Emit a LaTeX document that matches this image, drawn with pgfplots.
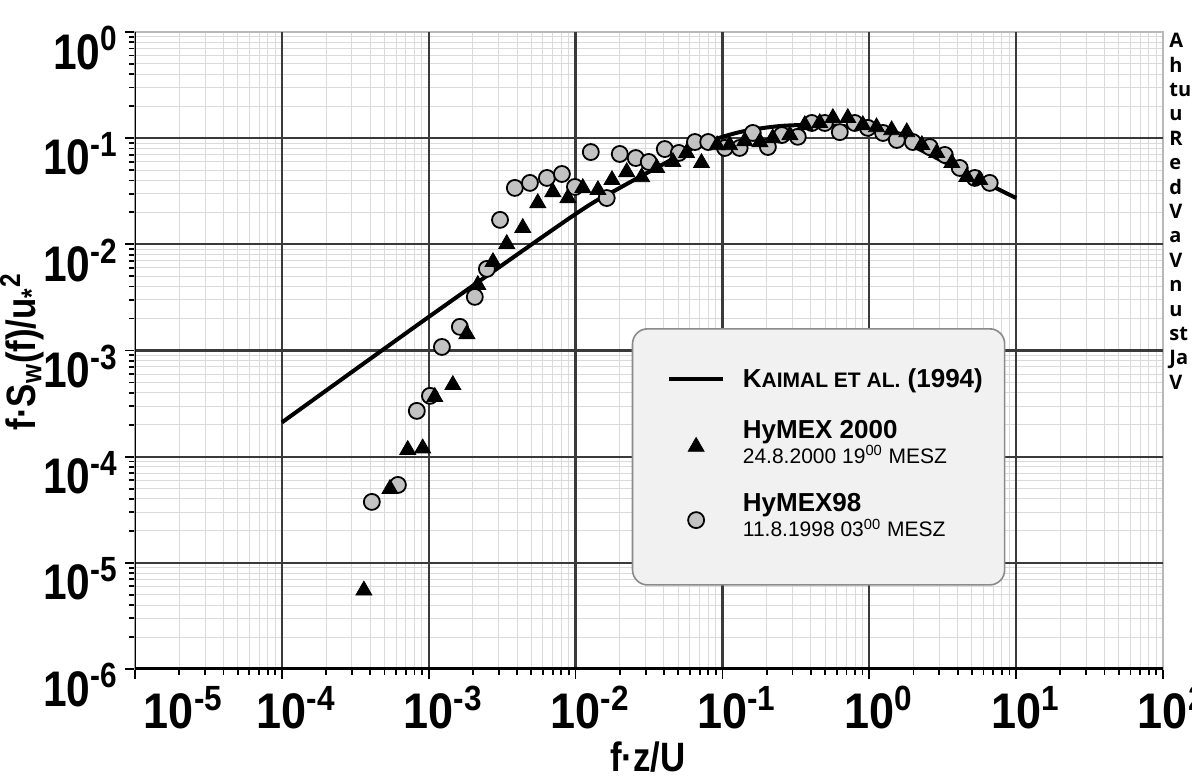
\documentclass[border=0pt]{standalone}
\usepackage{fontspec}
\setmainfont{Liberation Sans}
\newfontfamily\cond{Liberation Sans}[FakeStretch=0.85]
\newfontfamily\tcond{Liberation Sans}[FakeStretch=0.9]
\newfontfamily\sidefont{Open Sans}
\usepackage{pgfplots}
\pgfplotsset{compat=1.18}

\definecolor{majgrid}{HTML}{3A3A3A}
\definecolor{mingrid}{HTML}{DADADA}
\definecolor{dotfill}{HTML}{C2C2C2}
\definecolor{legfill}{HTML}{F1F1F1}
\definecolor{legdraw}{HTML}{8A8A8A}

\newcommand\ticktext{\tcond\bfseries\fontsize{25}{26}\selectfont}
\newcommand\yticktext{\cond\bfseries\fontsize{25}{26}\selectfont}
\newcommand\labtext{\cond\bfseries\fontsize{20.5}{24}\selectfont}
\newcommand\xl[1]{10\rlap{\textsuperscript{#1}}}
% two-line legend entry, lifted so the mark sits between its lines
\newcommand\legtwo[2]{\raisebox{5pt}[\height][\depth]{\begin{tabular}{@{}l@{}}\fontsize{13}{15}\selectfont\bfseries #1\\[0pt]
  \fontsize{10.5}{12}\selectfont #2\end{tabular}}}

\begin{document}
\begin{tikzpicture}
\useasboundingbox (0pt,0pt) rectangle (596pt,389.5pt);
\begin{axis}[at={(67.5pt,55pt)}, anchor=south west, scale only axis,
  width=514pt, height=318.5pt,
  xmode=log, ymode=log, xmin=1e-5, xmax=1e2, ymin=1e-6, ymax=1,
  xtick={1e-5,1e-4,1e-3,1e-2,1e-1,1,10,100},
  xticklabels={\hspace*{34pt}\xl{-5},\xl{-4},\xl{-3},\xl{-2},\xl{-1},\xl{0},\xl{1},\xl{2}},
  ytick={1e-6,1e-5,1e-4,1e-3,1e-2,1e-1,1},
  yticklabels={10\textsuperscript{-6},10\textsuperscript{-5},10\textsuperscript{-4},10\textsuperscript{-3},10\textsuperscript{-2},10\textsuperscript{-1},10\textsuperscript{0}},
  xticklabel style={font=\ticktext},
  yticklabel style={font=\yticktext, yshift=-8pt},
  tick align=outside, xtick pos=bottom, ytick pos=left,
  major tick length=5pt, minor tick length=3pt,
  tick style={black, line width=0.9pt},
  grid=minor,
  minor grid style={mingrid, line width=0.5pt},
  axis line style={draw=gray!55, line width=0.6pt},
  xlabel={f·z/U}, xlabel style={font=\labtext, at={(axis description cs:0.499,-0.138)}, anchor=center},
  ylabel={f·S\textsubscript{w}(f)/u\textsubscript{*}\textsuperscript{2}},
  ylabel style={font=\labtext, at={(axis description cs:-0.11,0.498)}, anchor=center},
  legend style={at={(rel axis cs:0.5175,0.476)}, anchor=north west, draw=none, fill=none,
    inner sep=0pt, row sep=18pt, nodes={inner sep=1pt},
    /tikz/every odd column/.append style={column sep=8pt}},
  legend cell align=left,
  legend image code/.code={\draw[#1,mark repeat=2,mark phase=2] plot coordinates {(0cm,0cm) (0.47cm,0cm) (0.94cm,0cm)};},
]
% major grid on top of the minor one
\pgfplotsinvokeforeach{1e-4,1e-3,1e-2,1e-1,1,10}{
  \draw[majgrid, line width=1.1pt] (axis cs:#1,1e-6) -- (axis cs:#1,1);}
\pgfplotsinvokeforeach{1e-5,1e-4,1e-3,1e-2,1e-1}{
  \draw[majgrid, line width=1.1pt] (axis cs:1e-5,#1) -- (axis cs:100,#1);}
% Kaimal et al. (1994)
\addplot[black, line width=2pt, smooth, forget plot] coordinates {
(1e-4,2.1e-4) (1e-3,2.07e-3) (1e-2,1.93e-2) (0.020,0.034) (0.0375,0.0547)
(0.070,0.0863) (0.131,0.114) (0.246,0.130) (0.46,0.133) (0.861,0.125)
(1.45,0.103) (2.46,0.0726) (4.13,0.0502) (6.61,0.0362) (10,0.0273)};
% HyMEX98
\addplot[only marks, mark=*, mark size=4pt, mark options={fill=dotfill, draw=black, line width=0.9pt}, forget plot] coordinates {
(4.10e-4,3.75e-5) (6.17e-4,5.42e-5) (8.3e-4,2.7e-4) (1.02e-3,3.74e-4) (1.23e-3,1.08e-3)
(1.63e-3,1.67e-3) (2.06e-3,3.2e-3) (2.49e-3,5.87e-3) (3.06e-3,1.70e-2) (3.86e-3,3.40e-2)
(4.89e-3,3.79e-2) (6.38e-3,4.22e-2) (8.07e-3,4.60e-2) (9.9e-3,3.47e-2) (1.27e-2,7.4e-2)
(1.63e-2,2.73e-2) (2.0e-2,7.1e-2) (2.57e-2,6.5e-2) (3.15e-2,5.97e-2) (4.05e-2,7.9e-2)
(5.05e-2,7.26e-2) (6.5e-2,9.2e-2) (8.0e-2,9.2e-2) (0.104,8.09e-2) (0.131,8.09e-2)
(0.161,0.112) (0.204,0.0826) (0.254,0.107) (0.326,0.103) (0.406,0.139)
(0.498,0.139) (0.630,0.114) (0.796,0.139) (0.977,0.125) (1.24,0.112)
(1.54,0.0962) (1.98,0.092) (2.58,0.0826) (3.27,0.0695) (4.13,0.0524)
(5.23,0.0422) (6.61,0.0379)};
% HyMEX 2000
\addplot[only marks, mark=triangle*, mark size=4.6pt, mark options={fill=black, draw=black}, forget plot] coordinates {
(3.62e-4,5.5e-6) (5.45e-4,4.98e-5) (7.2e-4,1.16e-4) (9.1e-4,1.2e-4) (1.10e-3,3.66e-4)
(1.46e-3,4.74e-4) (1.82e-3,1.43e-3) (2.16e-3,4.15e-3) (2.74e-3,6.83e-3) (3.4e-3,1.01e-2)
(4.37e-3,1.43e-2) (5.53e-3,2.45e-2) (7.0e-3,3.11e-2) (8.87e-3,2.73e-2) (1.12e-2,3.40e-2)
(1.42e-2,3.25e-2) (1.77e-2,4.04e-2) (2.23e-2,4.8e-2) (2.82e-2,4.3e-2) (3.57e-2,5.24e-2)
(4.6e-2,5.97e-2) (5.7e-2,7.26e-2) (7.2e-2,5.84e-2) (9.2e-2,8.6e-2) (0.112,8.6e-2)
(0.142,0.094) (0.18,0.092) (0.220,0.100) (0.288,0.107) (0.364,0.133)
(0.46,0.139) (0.565,0.155) (0.714,0.155) (0.904,0.133) (1.12,0.127)
(1.42,0.119) (1.80,0.114) (2.28,0.0863) (2.88,0.0726) (3.65,0.0584)
(4.61,0.0431) (5.65,0.0404)};
% axis spines
\draw[black, line width=2pt] (rel axis cs:0,0) -- (rel axis cs:1,0);
\draw[black, line width=1.4pt] (rel axis cs:0,0) -- (rel axis cs:0,1);
% legend frame
\draw[legdraw, fill=legfill, rounded corners=7.5pt, line width=0.8pt] (rel axis cs:0.484,0.132) rectangle (rel axis cs:0.846,0.534);
\addlegendimage{black, line width=2pt}
\addlegendentry{\fontsize{13}{15}\selectfont\bfseries K{\fontsize{10.5}{12}\selectfont AIMAL ET AL.} (1994)}
\addlegendimage{only marks, mark=triangle*, mark size=4.6pt, mark options={fill=black}}
\addlegendentry{\legtwo{HyMEX 2000}{24.8.2000 19\textsuperscript{00} MESZ}}
\addlegendimage{only marks, mark=*, mark size=4pt, mark options={fill=dotfill, draw=black, line width=0.9pt}}
\addlegendentry{\legtwo{HyMEX98}{11.8.1998 03\textsuperscript{00} MESZ}}
\end{axis}
\node[anchor=north west, inner sep=0pt, align=left, font=\sidefont\bfseries\fontsize{10}{12.2}\selectfont] at (584.5pt,373pt) {A\\h\\tu\\u\\R\\e\\d\\V\\a\\V\\n\\u\\st\\Ja\\V};
\end{tikzpicture}
\end{document}
